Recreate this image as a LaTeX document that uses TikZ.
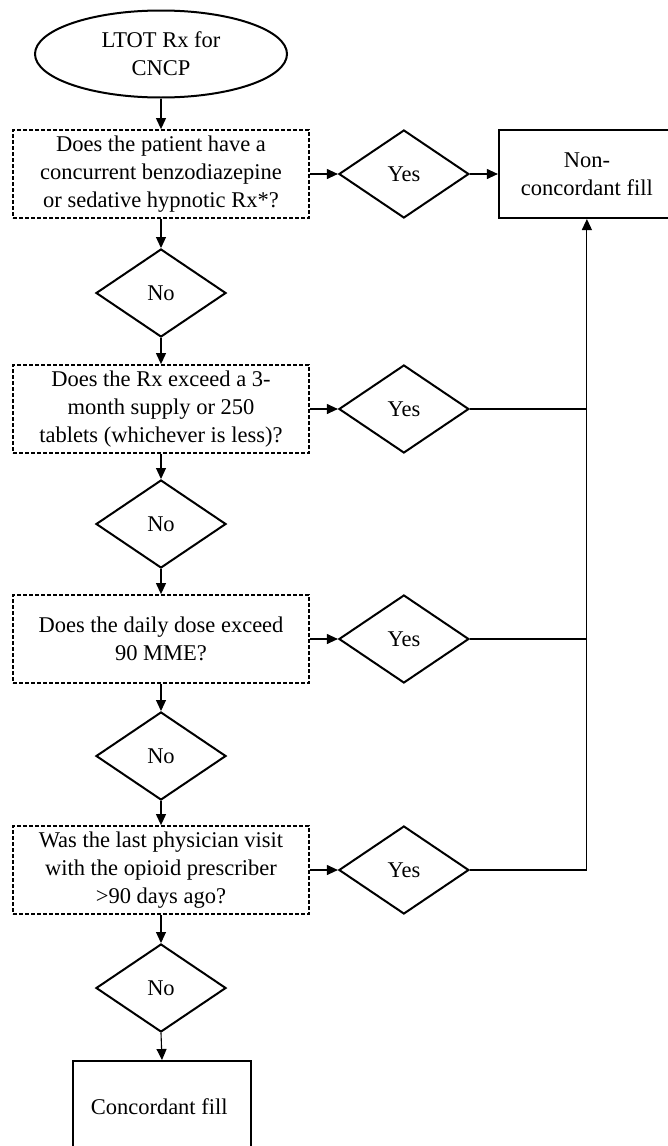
\documentclass[tikz,border=0pt]{standalone}
\usepackage{fontspec}
\setmainfont{Liberation Serif}
\usetikzlibrary{positioning,shapes.geometric,arrows.meta}

\begin{document}
\begin{tikzpicture}
  [
  x=1pt, y=-1pt,
  every node/.style={font=\fontsize{22.5}{28}\selectfont,align=center},
  startbox/.style={ellipse,draw,line width=2pt,minimum width=252pt,minimum height=87pt,inner sep=0pt},
  askbox/.style={rectangle,draw,line width=1.8pt,dash pattern=on 4pt off 2pt,minimum width=296pt,minimum height=88pt,inner sep=0pt},
  decbox/.style={diamond,draw,line width=2pt,minimum width=130pt,minimum height=88pt,inner sep=0pt},
  endbox/.style={rectangle,draw,line width=2pt,inner sep=0pt},
  conn/.style={-{Triangle[length=11pt,width=10pt]},line width=1.1pt}
  ]

  \useasboundingbox (0,0) rectangle (668,1146);

  \node (start) [startbox] at (161,54) {LTOT Rx for\\CNCP};
  \node (ask1)  [askbox] at (161,174) {
    Does the patient have a\\concurrent benzodiazepine\\or sedative hypnotic Rx*?
  };
  \node (no1)   [decbox] at (161,293) {No};
  \node (ask2)  [askbox] at (161,409) {
    Does the Rx exceed a 3-\\month supply or 250\\tablets (whichever is less)?
  };
  \node (no2)   [decbox] at (161,524) {No};
  \node (ask3)  [askbox] at (161,639) {
    Does the daily dose exceed\\90 MME?
  };
  \node (no3)   [decbox] at (161,756) {No};
  \node (ask4)  [askbox] at (161,870) {
    Was the last physician visit\\with the opioid prescriber\\{>}90 days ago?
  };
  \node (no4)   [decbox] at (161,988) {No};
  \node (conc)  [endbox] at (162,1107) [minimum width=178pt,minimum height=92pt] {
    Concordant fill
  };

  \node (yes1) [decbox] [right=28pt of ask1] {Yes};
  \node (yes2) [decbox] [right=28pt of ask2] {Yes};
  \node (yes3) [decbox] [right=28pt of ask3] {Yes};
  \node (yes4) [decbox] [right=28pt of ask4] {Yes};
  \node (ncf)  [endbox] [right=28pt of yes1] [minimum width=176pt,minimum height=88pt] {
    Non-\\concordant fill
  };

  \draw [conn] (start.south) -- (ask1.north);
  \draw [conn] (ask1.south)  -- (no1.north);
  \draw [conn] (no1.south)   -- (ask2.north);
  \draw [conn] (ask2.south)  -- (no2.north);
  \draw [conn] (no2.south)   -- (ask3.north);
  \draw [conn] (ask3.south)  -- (no3.north);
  \draw [conn] (no3.south)   -- (ask4.north);
  \draw [conn] (ask4.south)  -- (no4.north);
  \draw [conn] (no4.south)   -- (conc.north);

  \draw [conn] (ask1.east) -- (yes1.west);
  \draw [conn] (ask2.east) -- (yes2.west);
  \draw [conn] (ask3.east) -- (yes3.west);
  \draw [conn] (ask4.east) -- (yes4.west);
  \draw [conn] (yes1.east) -- (ncf.west);

  \draw [line width=1.1pt] (yes2.east) -- (yes2.east -| ncf.south);
  \draw [line width=1.1pt] (yes3.east) -- (yes3.east -| ncf.south);
  \draw [conn] (yes4.east) -| (ncf.south);
\end{tikzpicture}
\end{document}
